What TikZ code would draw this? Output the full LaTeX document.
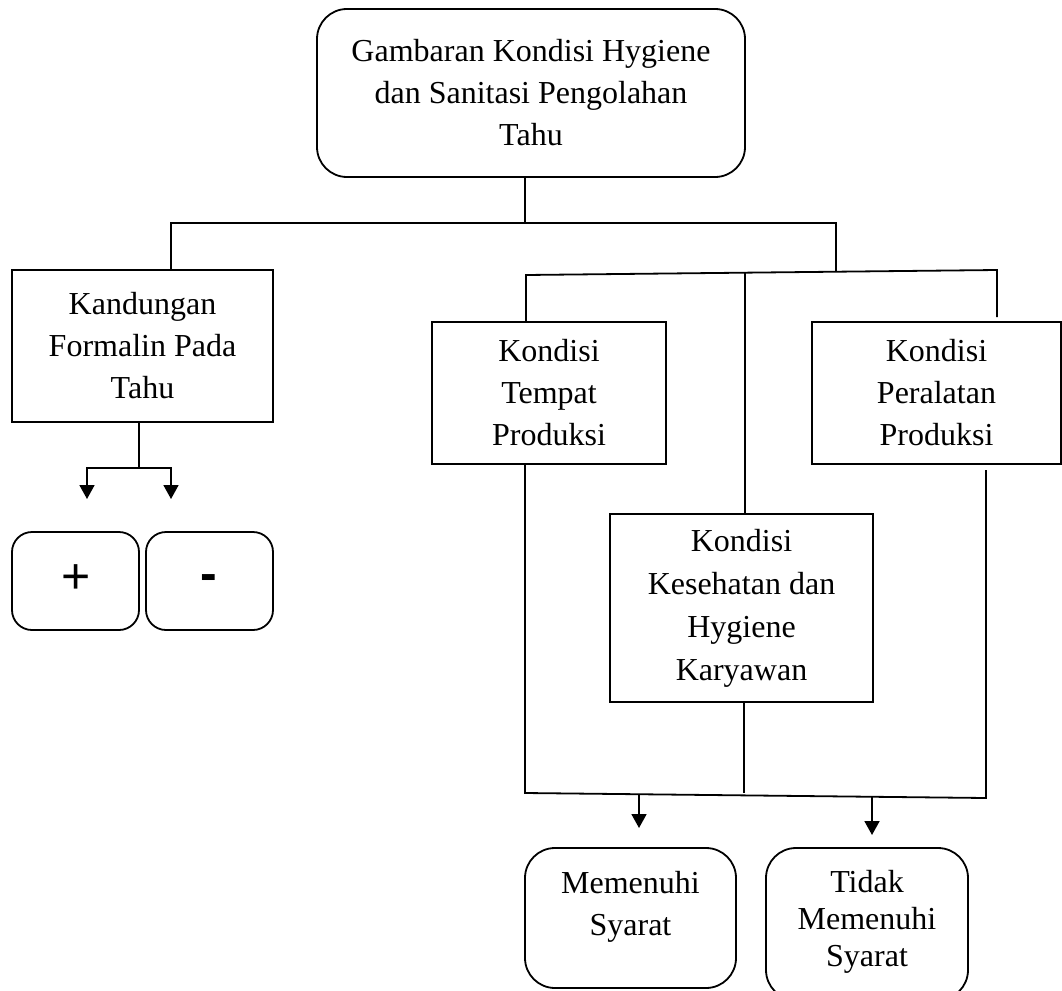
\documentclass[tikz,border=0pt]{standalone}
\usepackage{fontspec}
\setmainfont{Liberation Serif}
\newfontfamily\plainsans{Liberation Sans}
\usetikzlibrary{arrows.meta}
\begin{document}
\begin{tikzpicture}[x=1pt,y=-1pt,
  box/.style={draw, line width=1.4pt, inner sep=0pt, align=center, font=\fontsize{32}{42}\selectfont},
  rbox/.style={box, rounded corners=30pt, line width=1.8pt},
  conn/.style={line width=1.8pt},
  arr/.style={conn, -{Triangle[width=15pt,length=14pt]}},
  txt/.style={inner sep=0pt, align=center, font=\fontsize{32}{42}\selectfont}]
\useasboundingbox (0,0) rectangle (1062,990);

% boxes
\node[rbox, minimum width=428pt, minimum height=168pt] (top) at (531,93) {Gambaran Kondisi Hygiene\\dan Sanitasi Pengolahan\\Tahu};
\node[box, minimum width=261pt, minimum height=152pt] (kand) at (142.5,346) {Kandungan\\Formalin Pada\\Tahu};
\node[rbox, rounded corners=20pt, minimum width=127pt, minimum height=98pt] (pbox) at (75.5,581) {};
\node[rbox, rounded corners=20pt, minimum width=127pt, minimum height=98pt] (mbox) at (209.5,581) {};
\node[inner sep=0pt, font=\plainsans\fontsize{50}{50}\selectfont] (plus) at (76,579) {+};
\node[inner sep=0pt, font=\plainsans\bfseries\fontsize{50}{50}\selectfont] (minus) at (209,583) {-};
\node[box, minimum width=234pt, minimum height=142pt] (tempat) at (549,393) {Kondisi\\Tempat\\Produksi};
\node[box, minimum width=249pt, minimum height=142pt] (alat) at (936.5,393) {Kondisi\\Peralatan\\Produksi};
\node[box, minimum width=263pt, minimum height=188pt, font=\fontsize{32}{43}\selectfont] (kes) at (741.5,608) {Kondisi\\Kesehatan dan\\Hygiene\\Karyawan};
\node[rbox, minimum width=211pt, minimum height=140pt] (mem) at (630.5,918) {};
\node[txt] (memt) at (630.5,907) {Memenuhi\\Syarat};
\node[rbox, minimum width=202pt, minimum height=152pt] (tid) at (867,924) {};
\node[txt, font=\fontsize{32}{37}\selectfont] (tidt) at (867,922) {Tidak\\Memenuhi\\Syarat};

% top level connectors
\coordinate (j0) at (525,223);
\coordinate (jL) at (171,223);
\coordinate (jR) at (836,223);
\coordinate (jR2) at (836,272);
\draw[conn] (top.south -| j0) -- (j0);
\draw[conn] (kand.north -| jL) -- (jL) -- (jR) -- (jR2);

% right subtree top
\coordinate (s1) at (526,275);
\coordinate (s3) at (997,270);
\coordinate (sm) at (745,273);
\coordinate (s3e) at (997,317);
\draw[conn] (tempat.north -| s1) -- (s1) -- (s3) -- (s3e);
\draw[conn] (sm) -- (kes.north -| sm);

% right subtree bottom
\coordinate (b1) at (525,793);
\coordinate (b3) at (986,798);
\coordinate (b3t) at (986,470);
\coordinate (bm) at (744,793);
\draw[conn] (tempat.south -| b1) -- (b1) -- (b3) -- (b3t);
\draw[conn] (kes.south -| bm) -- (bm);
\coordinate (a1) at (639,795);
\coordinate (a1e) at (639,828);
\coordinate (a2) at (872,797);
\coordinate (a2e) at (872,835);
\draw[arr] (a1) -- (a1e);
\draw[arr] (a2) -- (a2e);

% left subtree
\coordinate (k1) at (139,468);
\coordinate (kle) at (87,499);
\coordinate (kre) at (171,499);
\draw[conn] (kand.south -| k1) -- (k1);
\draw[arr] (k1) -| (kle);
\draw[arr] (k1) -| (kre);
\end{tikzpicture}
\end{document}
